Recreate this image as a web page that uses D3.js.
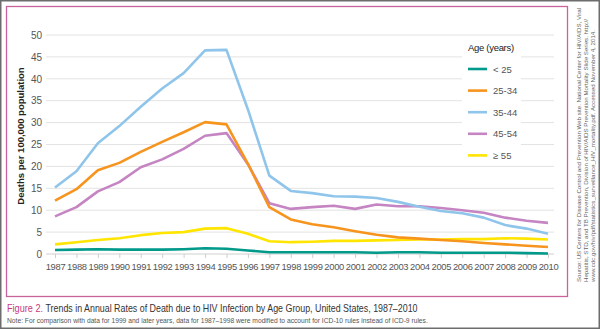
<!DOCTYPE html>
<html>
<head>
<meta charset="utf-8">
<script src="https://cdn.jsdelivr.net/npm/d3@7"></script>
<style>
  body { margin: 0; background: #fff; }
  svg { display: block; font-family: "Liberation Sans", Arial, sans-serif; }
</style>
</head>
<body>
<script>
// HIV death rates by age group, 1987-2010
var years = d3.range(1987, 2011);
var ageGroups = ["< 25", "25-34", "35-44", "45-54", "\u2265 55"];
var colors = ["#00998a", "#f7941d", "#8fc5ea", "#c584c2", "#ffe500"];

var under25 = [0.9, 1.0, 1.1, 1.0, 1.0, 1.0, 1.1, 1.3, 1.2, 0.8, 0.4, 0.4, 0.4, 0.4, 0.4, 0.3, 0.4, 0.4, 0.3, 0.3, 0.3, 0.3, 0.2, 0.1];
var age25to34 = [12.2, 14.8, 19.1, 20.8, 23.3, 25.6, 27.8, 30.1, 29.6, 20.6, 10.7, 7.9, 6.8, 6.1, 5.2, 4.4, 3.8, 3.5, 3.2, 2.9, 2.5, 2.2, 1.9, 1.6];
var age35to44 = [15.2, 18.9, 25.3, 29.2, 33.6, 37.8, 41.3, 46.5, 46.6, 33.0, 17.9, 14.4, 13.9, 13.2, 13.1, 12.8, 11.9, 10.8, 9.8, 9.3, 8.3, 6.6, 5.8, 4.6];
var age45to54 = [8.6, 10.7, 14.3, 16.4, 19.8, 21.6, 24.0, 27.0, 27.6, 20.5, 11.6, 10.3, 10.7, 11.0, 10.3, 11.3, 10.9, 10.9, 10.5, 10.0, 9.4, 8.3, 7.6, 7.1];
var over55 = [2.2, 2.7, 3.2, 3.6, 4.3, 4.8, 5.0, 5.8, 5.9, 4.6, 2.9, 2.7, 2.8, 3.0, 3.0, 3.1, 3.2, 3.3, 3.3, 3.4, 3.4, 3.6, 3.5, 3.3];
var yTicks = [0, 5, 10, 15, 20, 25, 30, 35, 40, 45, 50];

var series = [under25, age25to34, age35to44, age45to54, over55];

var width = 600, height = 329;

var svg = d3.select("body").append("svg")
    .attr("width", width)
    .attr("height", height);

// outer frame and pink chart box
svg.append("rect")
    .attr("x", 0.75).attr("y", 0.75)
    .attr("width", width - 1.5).attr("height", height - 1.5)
    .attr("fill", "none").attr("stroke", "#6d6d6d").attr("stroke-width", 1.5);

svg.append("rect")
    .attr("x", 6.5).attr("y", 6.5)
    .attr("width", 561).attr("height", 290)
    .attr("fill", "none").attr("stroke", "#c8639c").attr("stroke-width", 1.3);

var x = d3.scalePoint().domain(years).range([55, 548]);
var y = d3.scaleLinear().domain([0, 50]).range([254, 35]);

// gridlines
svg.append("g")
    .selectAll("line")
    .data(yTicks)
    .enter().append("line")
    .attr("x1", 46).attr("x2", 554)
    .attr("y1", function(d){ return y(d); })
    .attr("y2", function(d){ return y(d); })
    .attr("stroke", function(d){ return d === 0 ? "#cfcfcf" : "#e3e3e3"; })
    .attr("stroke-width", 1);

// y axis labels
var yAxis = svg.append("g")
    .attr("transform", "translate(46,0)")
    .call(d3.axisLeft(y).tickValues(yTicks).tickSize(0).tickPadding(4));
yAxis.select(".domain").remove();
yAxis.selectAll("text")
    .attr("fill", "#555").style("font-size", "10px")
    .style("font-family", "Liberation Sans, Arial, sans-serif");

// x axis
var xAxis = svg.append("g")
    .attr("transform", "translate(0,254)")
    .call(d3.axisBottom(x).tickSize(4).tickPadding(5).tickFormat(d3.format("d")));
xAxis.select(".domain").remove();
xAxis.selectAll("line").attr("stroke", "#cfcfcf");
xAxis.selectAll("text")
    .attr("fill", "#555").style("font-size", "9.4px")
    .style("font-family", "Liberation Sans, Arial, sans-serif")
    .style("letter-spacing", "-0.3px");

// y axis title
svg.append("text")
    .attr("transform", "translate(24,136) rotate(-90)")
    .attr("text-anchor", "middle")
    .style("font-size", "9.5px")
    .style("font-weight", "bold")
    .attr("fill", "#222")
    .text("Deaths per 100,000 population");

// series lines
var line = d3.line()
    .x(function(d, i){ return x(years[i]); })
    .y(function(d){ return y(d); });

// draw in order so the early ones sit underneath
var drawOrder = [4, 0, 3, 2, 1];
svg.append("g")
    .selectAll("path")
    .data(drawOrder)
    .enter().append("path")
    .attr("d", function(k){ return line(series[k]); })
    .attr("fill", "none")
    .attr("stroke", function(k){ return colors[k]; })
    .attr("stroke-width", 2.6)
    .attr("stroke-linejoin", "round");

// legend
var legend = svg.append("g");
legend.append("rect")
    .attr("x", 462).attr("y", 38)
    .attr("width", 59).attr("height", 126)
    .attr("fill", "#fff");
legend.append("text")
    .attr("x", 468).attr("y", 51)
    .style("font-size", "9.5px")
    .style("letter-spacing", "-0.3px")
    .attr("fill", "#222")
    .text("Age (years)");

var items = legend.selectAll(".item")
    .data(ageGroups)
    .enter().append("g")
    .attr("class", "item")
    .attr("transform", function(d, i){ return "translate(468," + (69 + i * 21.6) + ")"; });
items.append("line")
    .attr("x1", 0).attr("x2", 19)
    .attr("stroke", function(d, i){ return colors[i]; })
    .attr("stroke-width", 2.6);
items.append("text")
    .attr("x", 25).attr("y", 3.5)
    .style("font-size", "9.5px")
    .attr("fill", "#555")
    .text(function(d){ return d; });

// source text, rotated along the right edge
var sourceLines = [
    "Source: US Centers for Disease Control and Prevention Web site. National Center for HIV/AIDS, Viral",
    "Hepatitis, STD, and TB Prevention, Division of HIV/AIDS Prevention Mortality Slide Series. http://",
    "www.cdc.gov/hiv/pdf/statistics_surveillance_HIV_mortality.pdf. Accessed November 4, 2014."
];
var sourceLengths = [274, 263, 252];
svg.append("g")
    .selectAll("text")
    .data(sourceLines)
    .enter().append("text")
    .attr("transform", function(d, i){ return "translate(" + (581 + i * 7) + ",282) rotate(-90)"; })
    .attr("textLength", function(d, i){ return sourceLengths[i]; })
    .attr("lengthAdjust", "spacingAndGlyphs")
    .style("font-size", "5.8px")
    .attr("fill", "#666")
    .text(function(d){ return d; });

// caption, in two parts
svg.append("text")
    .attr("x", 7).attr("y", 312)
    .attr("textLength", 36)
    .attr("lengthAdjust", "spacingAndGlyphs")
    .style("font-size", "10.2px")
    .attr("fill", "#c8387f")
    .text("Figure 2.");
svg.append("text")
    .attr("x", 45.5).attr("y", 312)
    .attr("textLength", 372)
    .attr("lengthAdjust", "spacingAndGlyphs")
    .style("font-size", "10.2px")
    .attr("fill", "#333")
    .text("Trends in Annual Rates of Death due to HIV Infection by Age Group, United States, 1987\u20132010");

svg.append("text")
    .attr("x", 7).attr("y", 322.5)
    .style("font-size", "6.7px")
    .attr("fill", "#555")
    .text("Note: For comparison with data for 1999 and later years, data for 1987\u20131998 were modified to account for ICD-10 rules instead of ICD-9 rules.");
</script>
</body>
</html>
